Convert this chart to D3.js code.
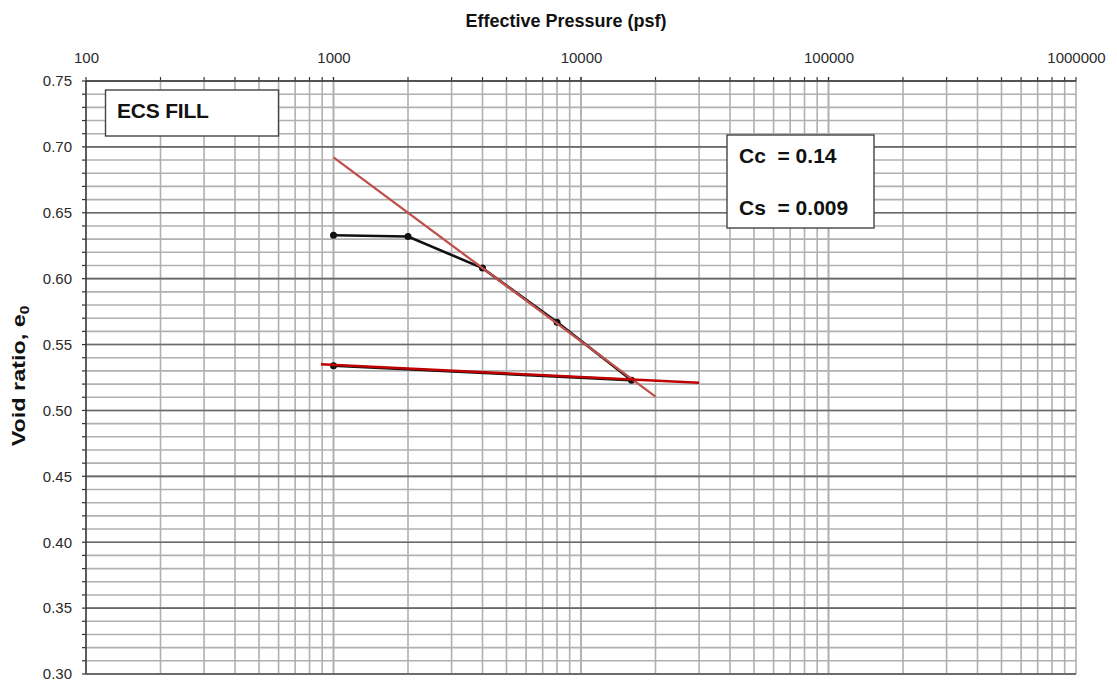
<!DOCTYPE html>
<html>
<head>
<meta charset="utf-8">
<script src="https://cdn.jsdelivr.net/npm/d3@7"></script>
<style>
  body { margin: 0; background: #fff; }
  svg { font-family: Arial, "Liberation Sans", sans-serif; }
</style>
</head>
<body>
<div id="chart"></div>
<script>
// consolidation test data
const pressure = [1000, 2000, 4000, 8000, 16000, 1000]
const voidRatio = [0.633, 0.632, 0.608, 0.567, 0.523, 0.534]

// fitted compression / swelling lines
const ccPressure = [1000, 20000]
const ccVoid = [0.692, 0.5105]
const csPressure = [890, 30000]
const csVoid = [0.535, 0.521]

const xDecades = [100, 1000, 10000, 100000, 1000000]
const yTicks = [0.30, 0.35, 0.40, 0.45, 0.50, 0.55, 0.60, 0.65, 0.70, 0.75]
const boxTitle = 'ECS FILL'
const coefLabels = ['Cc  = 0.14', 'Cs  = 0.009']

const W = 1117, H = 683
const m = { left: 86, right: 41, top: 81, bottom: 9 }
const iw = W - m.left - m.right, ih = H - m.top - m.bottom

const svg = d3.select('#chart').append('svg')
  .attr('width', W).attr('height', H)
const g = svg.append('g').attr('transform', `translate(${m.left},${m.top})`)

const x = d3.scaleLog().domain([100, 1000000]).range([0, iw])
const y = d3.scaleLinear().domain([0.30, 0.75]).range([ih, 0])

// minor ticks
const xMinor = []
for (let d = 100; d < 1000000; d *= 10) {
  for (let k = 1; k <= 10; k++) xMinor.push(d * k)
}
const yMinor = d3.range(30, 76).map(v => v / 100)

// gridlines
g.append('g').selectAll('line').data(xMinor).join('line')
  .attr('x1', d => x(d)).attr('x2', d => x(d))
  .attr('y1', 0).attr('y2', ih)
  .attr('stroke', '#b0b0b0').attr('stroke-width', 1.6)
g.append('g').selectAll('line').data(yMinor).join('line')
  .attr('x1', 0).attr('x2', iw)
  .attr('y1', d => y(d)).attr('y2', d => y(d))
  .attr('stroke', '#b0b0b0').attr('stroke-width', 1.6)
g.append('g').selectAll('line').data(yTicks).join('line')
  .attr('x1', 0).attr('x2', iw)
  .attr('y1', d => y(d)).attr('y2', d => y(d))
  .attr('stroke', '#6a6a6a').attr('stroke-width', 1.6)

// small outside tick marks
g.append('g').selectAll('line').data(yMinor).join('line')
  .attr('x1', -4).attr('x2', 0)
  .attr('y1', d => y(d)).attr('y2', d => y(d))
  .attr('stroke', '#333').attr('stroke-width', 1.2)
g.append('g').selectAll('line').data(xMinor).join('line')
  .attr('x1', d => x(d)).attr('x2', d => x(d))
  .attr('y1', -4).attr('y2', 0)
  .attr('stroke', '#333').attr('stroke-width', 1.2)

// axes (labels only)
const xAxis = d3.axisTop(x).tickValues(xDecades).tickFormat(d3.format('d')).tickSize(0).tickPadding(18)
g.append('g').call(xAxis)
  .call(s => s.select('.domain').remove())
  .selectAll('text').attr('font-size', 15).attr('fill', '#2a2a2a')

const yAxis = d3.axisLeft(y).tickValues(yTicks).tickFormat(d3.format('.2f')).tickSize(0).tickPadding(14)
g.append('g').call(yAxis)
  .call(s => s.select('.domain').remove())
  .selectAll('text').attr('font-size', 15).attr('fill', '#2a2a2a')

// frame
g.append('line').attr('x1', 0).attr('x2', iw).attr('y1', 0).attr('y2', 0)
  .attr('stroke', '#444').attr('stroke-width', 1.4)
g.append('line').attr('x1', 0).attr('x2', 0).attr('y1', 0).attr('y2', ih)
  .attr('stroke', '#333').attr('stroke-width', 1.4)
g.append('line').attr('x1', 0).attr('x2', iw).attr('y1', ih).attr('y2', ih)
  .attr('stroke', '#666').attr('stroke-width', 1.4)

// titles
svg.append('text').attr('x', 566).attr('y', 27)
  .attr('text-anchor', 'middle').attr('font-size', 18).attr('font-weight', 'bold')
  .attr('fill', '#111').text('Effective Pressure (psf)')

const yt = svg.append('text')
  .attr('transform', 'translate(25,376) rotate(-90) scale(1.3,1)')
  .attr('text-anchor', 'middle').attr('font-size', 18).attr('font-weight', 'bold').attr('fill', '#111')
yt.append('tspan').text('Void ratio,  e')
yt.append('tspan').attr('font-size', 12).attr('dy', 4).text('0')

// data line
const line = d3.line().x(d => x(d[0])).y(d => y(d[1]))
const pts = pressure.map((p, i) => [p, voidRatio[i]])
g.append('path').datum(pts).attr('d', line)
  .attr('fill', 'none').attr('stroke', '#111').attr('stroke-width', 2.6)
g.append('g').selectAll('circle').data(pts).join('circle')
  .attr('cx', d => x(d[0])).attr('cy', d => y(d[1])).attr('r', 3.5)
  .attr('fill', '#111')

// fitted lines
g.append('path').datum(ccPressure.map((p, i) => [p, ccVoid[i]])).attr('d', line)
  .attr('fill', 'none').attr('stroke', '#c0504d').attr('stroke-width', 2.3)
g.append('path').datum(csPressure.map((p, i) => [p, csVoid[i]])).attr('d', line)
  .attr('fill', 'none').attr('stroke', '#c00000').attr('stroke-width', 2.5)

// text boxes
svg.append('rect').attr('x', 105.5).attr('y', 90).attr('width', 173).attr('height', 46)
  .attr('fill', '#fff').attr('stroke', '#444').attr('stroke-width', 1.4)
svg.append('text').attr('x', 117).attr('y', 118)
  .attr('font-size', 21).attr('font-weight', 'bold').attr('fill', '#111')
  .attr('letter-spacing', -0.2).text(boxTitle)

svg.append('rect').attr('x', 727).attr('y', 135).attr('width', 147).attr('height', 93)
  .attr('fill', '#fff').attr('stroke', '#444').attr('stroke-width', 1.4)
svg.selectAll('.coef').data(coefLabels).join('text')
  .attr('class', 'coef')
  .attr('x', 739).attr('y', (d, i) => 163 + i * 52)
  .attr('font-size', 21).attr('font-weight', 'bold').attr('fill', '#111')
  .attr('xml:space', 'preserve').style('white-space', 'pre')
  .text(d => d)
</script>
</body>
</html>
